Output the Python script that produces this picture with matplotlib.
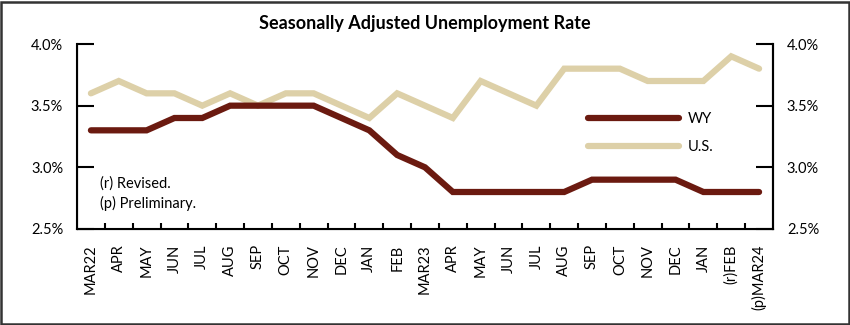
import matplotlib.pyplot as plt
import numpy as np
from matplotlib.ticker import FixedLocator, FuncFormatter
from matplotlib.patches import Rectangle

# Data
months = ["MAR22", "APR", "MAY", "JUN", "JUL", "AUG", "SEP", "OCT", "NOV", "DEC",
          "JAN", "FEB", "MAR23", "APR", "MAY", "JUN", "JUL", "AUG", "SEP", "OCT",
          "NOV", "DEC", "JAN", "(r)FEB", "(p)MAR24"]
wy = [3.3, 3.3, 3.3, 3.4, 3.4, 3.5, 3.5, 3.5, 3.5, 3.4,
      3.3, 3.1, 3.0, 2.8, 2.8, 2.8, 2.8, 2.8, 2.9, 2.9,
      2.9, 2.9, 2.8, 2.8, 2.8]
us = [3.6, 3.7, 3.6, 3.6, 3.5, 3.6, 3.5, 3.6, 3.6, 3.5,
      3.4, 3.6, 3.5, 3.4, 3.7, 3.6, 3.5, 3.8, 3.8, 3.8,
      3.7, 3.7, 3.7, 3.9, 3.8]
yticks = [2.5, 3.0, 3.5, 4.0]

plt.rcParams["font.family"] = ["Lato", "DejaVu Sans"]

wy_color = "#6B1A10"
us_color = "#DDD0A8"

W, H = 850, 325
fig = plt.figure(figsize=(8.5, 3.25), dpi=100)
ax = fig.add_axes([77 / W, 1 - 229 / H, 696 / W, 185 / H])

x = np.arange(len(months))
ax.plot(x, us, color=us_color, lw=4.5, solid_capstyle="round",
        solid_joinstyle="miter", label="U.S.")
ax.plot(x, wy, color=wy_color, lw=4.5, solid_capstyle="round",
        solid_joinstyle="miter", label="WY")

ax.set_xlim(-0.5, len(months) - 0.5)
ax.set_ylim(2.5, 4.0)

pct = FuncFormatter(lambda v, p: f"{v:.1f}%")
ax.yaxis.set_major_locator(FixedLocator(yticks))
ax.yaxis.set_major_formatter(pct)
ax.tick_params(axis="y", direction="in", length=12, width=1.5, pad=10,
               labelsize=10.5)

ax.set_xticks(x)
ax.set_xticklabels(months, rotation=90, fontsize=10.5)
ax.tick_params(axis="x", which="major", length=0, pad=11)
ax.xaxis.set_minor_locator(FixedLocator(np.arange(0.5, len(months) - 1, 1)))
ax.tick_params(axis="x", which="minor", direction="in", length=4, width=1.5)

ax.spines["top"].set_visible(False)
for s in ["left", "bottom", "right"]:
    ax.spines[s].set_linewidth(1.5)

ax2 = ax.twinx()
ax2.set_ylim(2.5, 4.0)
ax2.yaxis.set_major_locator(FixedLocator(yticks))
ax2.yaxis.set_major_formatter(pct)
ax2.tick_params(axis="y", direction="in", length=12, width=1.5, pad=10,
                labelsize=10.5)
ax2.spines["top"].set_visible(False)
ax2.spines["right"].set_linewidth(1.5)

handles, labels = ax.get_legend_handles_labels()
ax.legend(handles[::-1], labels[::-1], loc="center left",
          bbox_to_anchor=(498 / 696, (229 - 133) / 185), frameon=False,
          fontsize=10.5, handlelength=6.2, handletextpad=0.6, labelspacing=1.0)

# notes
fig.text(100 / W, 1 - 184 / H, "(r) Revised.", fontsize=10.5,
         va="center", ha="left")
fig.text(100 / W, 1 - 203 / H, "(p) Preliminary.", fontsize=10.5,
         va="center", ha="left")

fig.text(0.5, 1 - 24 / H, "Seasonally Adjusted Unemployment Rate",
         fontsize=13, fontweight="bold", ha="center", va="center")

fig.patches.append(Rectangle((1 / W, 1 / H), 1 - 2.5 / W, 1 - 2.5 / H,
                             transform=fig.transFigure, fill=False,
                             edgecolor="#333333", linewidth=1.8))

fig.savefig("out.png", dpi=100)
